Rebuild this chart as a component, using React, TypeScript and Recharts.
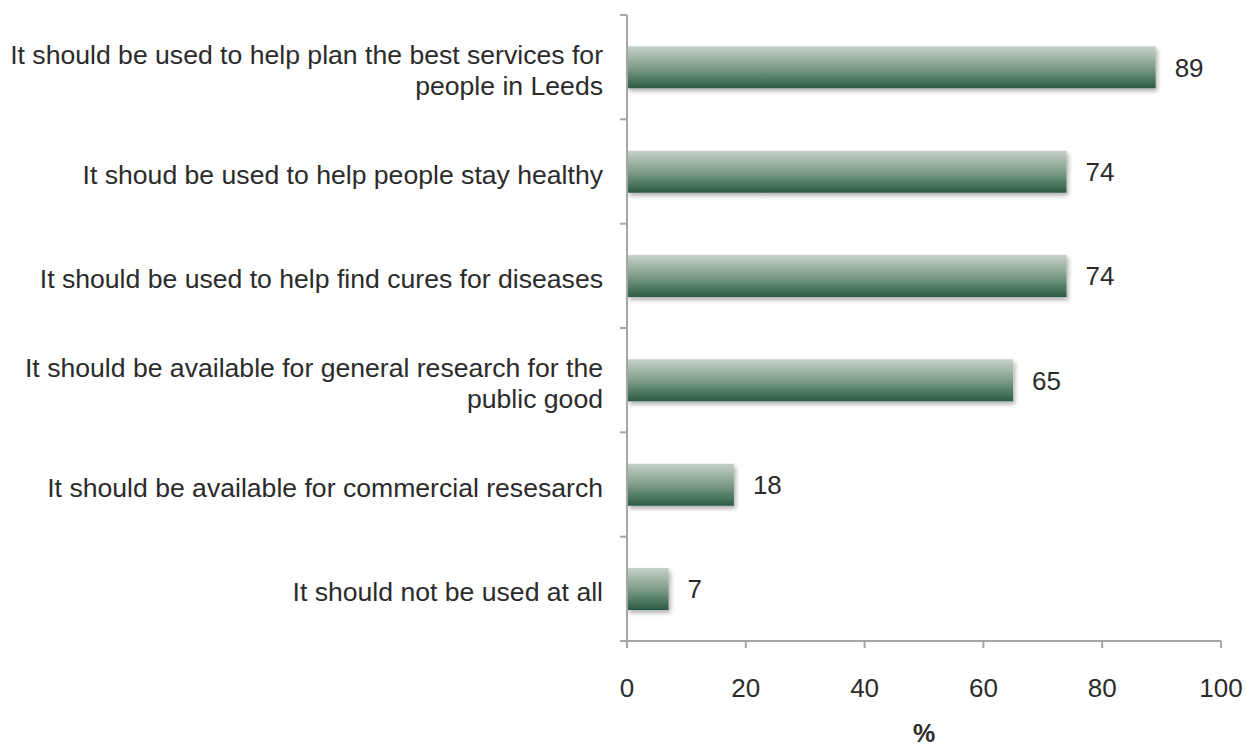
import React from 'react';
import { BarChart, Bar, XAxis, YAxis, LabelList } from 'recharts';

const categories = [
  'It should be used to help plan the best services for people in Leeds',
  'It shoud be used to help people stay healthy',
  'It should be used to help find cures for diseases',
  'It should be available for general research for the public good',
  'It should be available for commercial resesarch',
  'It should not be used at all',
];
const percentages = [89, 74, 74, 65, 18, 7];
const xTicks = [0, 20, 40, 60, 80, 100];

const data = categories.map((name, i) => ({ name, value: percentages[i] }));

const WIDTH = 1246;
const HEIGHT = 747;
const MARGIN = { top: 15, right: 25, bottom: 0, left: 0 };
const X_AXIS_H = 106;
const Y_AXIS_W = 627;
const LABEL_GAP = 24;
const BAND = (HEIGHT - MARGIN.top - MARGIN.bottom - X_AXIS_H) / categories.length;

const FONT = '"Liberation Sans", Arial, sans-serif';
const AXIS = '#a6a6a6';
const TEXT = '#2b2b2b';
const FS = 26;

// split a label into lines of at most maxChars characters
const wrap = (text: string, maxChars: number) => {
  const lines: string[] = [];
  let line = '';
  text.split(' ').forEach((word) => {
    const next = line ? line + ' ' + word : word;
    if (next.length > maxChars && line) {
      lines.push(line);
      line = word;
    } else {
      line = next;
    }
  });
  if (line) lines.push(line);
  return lines;
};

// category label plus Excel-style tick marks on the band edges
const CategoryTick = (props: any) => {
  const { x, y, payload, index, visibleTicksCount } = props;
  const lines = wrap(payload.value, 52);
  const lineHeight = 31;
  const startY = y + 3 - ((lines.length - 1) * lineHeight) / 2;
  const axisX = x + LABEL_GAP;
  const last = index === visibleTicksCount - 1;
  return (
    <g>
      <line x1={axisX - 7} x2={axisX} y1={y - BAND / 2} y2={y - BAND / 2} stroke={AXIS} strokeWidth={2} />
      {last && (
        <line x1={axisX - 7} x2={axisX} y1={y + BAND / 2} y2={y + BAND / 2} stroke={AXIS} strokeWidth={2} />
      )}
      <text x={x} y={startY} textAnchor="end" fill={TEXT} fontSize={26.6} fontFamily={FONT}>
        {lines.map((l, i) => (
          <tspan key={i} x={x} y={startY + i * lineHeight} dy="0.35em">
            {l}
          </tspan>
        ))}
      </text>
    </g>
  );
};

export default function App() {
  return (
    <div style={{ position: 'absolute', left: 0, top: 0, background: '#fff' }}>
      <BarChart
        width={WIDTH}
        height={HEIGHT}
        data={data}
        layout="vertical"
        margin={MARGIN}
        barCategoryGap="30%"
      >
        <defs>
          <linearGradient id="barGrad" x1="0" y1="0" x2="0" y2="1">
            <stop offset="0%" stopColor="#c6d1c9" />
            <stop offset="50%" stopColor="#7f9e8a" />
            <stop offset="100%" stopColor="#2a5c44" />
          </linearGradient>
          <filter id="barShadow" x="-10%" y="-20%" width="130%" height="160%">
            <feDropShadow dx="2" dy="3" stdDeviation="2" floodColor="#000" floodOpacity="0.3" />
          </filter>
        </defs>
        <XAxis
          type="number"
          domain={[0, 100]}
          ticks={xTicks}
          height={X_AXIS_H}
          stroke={AXIS}
          strokeWidth={2}
          tickSize={7}
          tickMargin={31}
          tick={{ fill: TEXT, fontSize: FS, fontFamily: FONT }}
          label={{
            value: '%',
            position: 'insideBottom',
            offset: 5,
            fill: TEXT,
            fontSize: 25,
            fontWeight: 'bold',
            fontFamily: FONT,
          }}
        />
        <YAxis
          type="category"
          dataKey="name"
          width={Y_AXIS_W}
          stroke={AXIS}
          strokeWidth={2}
          tickLine={false}
          tickSize={0}
          tickMargin={LABEL_GAP}
          interval={0}
          tick={<CategoryTick />}
        />
        <Bar dataKey="value" fill="url(#barGrad)" filter="url(#barShadow)" isAnimationActive={false}>
          <LabelList
            dataKey="value"
            position="right"
            offset={19}
            fill={TEXT}
            fontSize={FS}
            fontFamily={FONT}
          />
        </Bar>
      </BarChart>
    </div>
  );
}
